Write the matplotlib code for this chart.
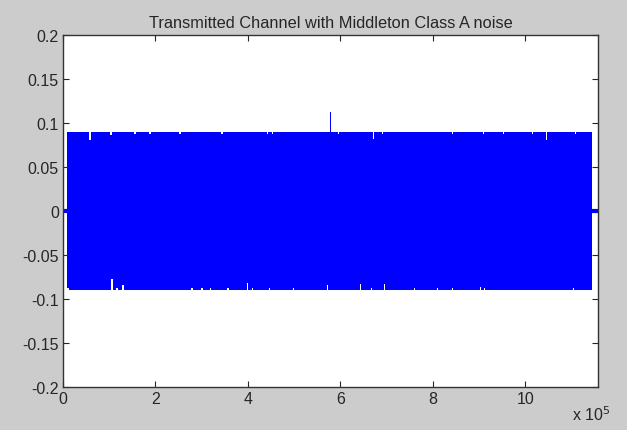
import numpy as np
import matplotlib
matplotlib.use("Agg")
import matplotlib.pyplot as plt
from matplotlib.ticker import FuncFormatter

plt.rcParams['font.family'] = ['Liberation Sans', 'DejaVu Sans']

# ---- data ----
n_total = 1158000          # axis length (samples)
sig_start = 8000           # first non-zero sample
sig_end = 1145000          # last non-zero sample
amp = 0.09                 # envelope amplitude

# upper-envelope dips (sample index, value)
top_x = [58450, 103900, 155900, 188400, 253300, 344200, 441700, 452500,
         578000, 595400, 671200, 690600, 842200, 909300, 952600, 1015400,
         1045700, 1108500]
top_v = [0.081, 0.0865, 0.087, 0.087, 0.087, 0.087, 0.087, 0.087,
         0.113, 0.087, 0.082, 0.087, 0.087, 0.087, 0.087, 0.087,
         0.081, 0.087]

# lower-envelope dips (sample index, value)
bot_x = [10800, 106100, 116900, 129900, 279300, 300900, 318300, 357200,
         398400, 409200, 446000, 498000, 571600, 643000, 666800, 695000,
         760000, 809700, 842200, 902900, 911500, 1104200]
bot_v = [-0.087, -0.077, -0.087, -0.084, -0.087, -0.087, -0.087, -0.087,
         -0.082, -0.087, -0.087, -0.087, -0.084, -0.083, -0.087, -0.083,
         -0.087, -0.087, -0.087, -0.086, -0.087, -0.087]

title = "Transmitted Channel with Middleton Class A noise"
xticks = [0, 200000, 400000, 600000, 800000, 1000000]
yticks = [-0.2, -0.15, -0.1, -0.05, 0, 0.05, 0.1, 0.15, 0.2]

# ---- build envelope ----
half_w = 1300
def envelope(xs, vs, base):
    pts_x = [sig_start]
    pts_v = [base]
    for x, v in sorted(zip(xs, vs)):
        pts_x += [x - half_w, x - half_w, x + half_w, x + half_w]
        pts_v += [base, v, v, base]
    pts_x.append(sig_end)
    pts_v.append(base)
    return np.array(pts_x, float), np.array(pts_v, float)

tx, tv = envelope(top_x, top_v, amp)
bx, bv = envelope(bot_x, bot_v, -amp)

fig = plt.figure(figsize=(6.27, 4.31), dpi=100, facecolor=(0.8, 0.8, 0.8))
ax = fig.add_axes([0.1005, 0.0998, 0.8535, 0.8167])
ax.set_facecolor('white')

blue = (0, 0, 1)
ax.fill_between(tx, 0, tv, color=blue, lw=0, antialiased=False)
ax.fill_between(bx, bv, 0, color=blue, lw=0, antialiased=False)
ax.plot([0, sig_start], [0, 0], color=blue, lw=3, solid_capstyle='butt')
ax.plot([sig_end, n_total], [0, 0], color=blue, lw=3, solid_capstyle='butt')

ax.set_xlim(0, n_total)
ax.set_ylim(-0.2, 0.2)
ax.set_xticks(xticks)
ax.set_yticks(yticks)
ax.xaxis.set_major_formatter(FuncFormatter(lambda v, p: f"{v/1e5:g}"))
ax.yaxis.set_major_formatter(FuncFormatter(lambda v, p: f"{v:g}"))
ax.tick_params(direction='in', top=True, right=True, length=4,
               labelsize=11.5, colors=(0.15, 0.15, 0.15), pad=3)
for s in ax.spines.values():
    s.set_color((0.2, 0.2, 0.2))
    s.set_linewidth(1.0)

ax.set_title(title, fontsize=11.8, color=(0.15, 0.15, 0.15), pad=6)
fig.text(0.912, 0.016, r"x 10$^5$", fontsize=11.5, color=(0.15, 0.15, 0.15),
         ha='left', va='bottom')

fig.savefig("out.png", dpi=100, facecolor=fig.get_facecolor())
